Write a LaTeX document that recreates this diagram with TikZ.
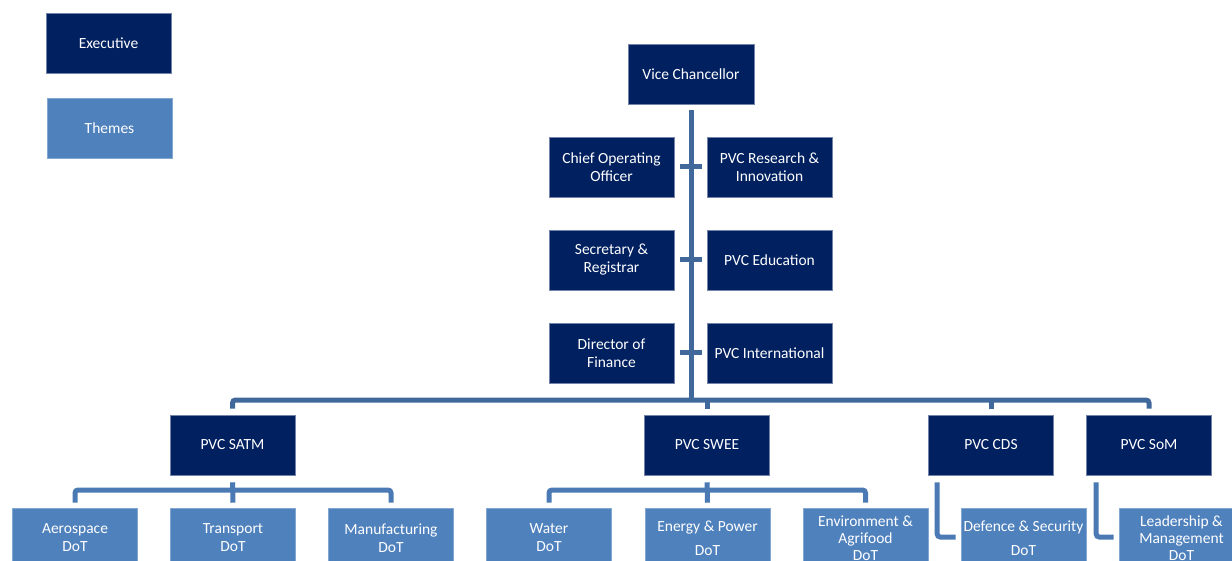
\documentclass[tikz,border=0pt]{standalone}
\usepackage{fontspec}
\setmainfont{Carlito}
\definecolor{execc}{HTML}{002060}
\definecolor{themec}{HTML}{4F81BD}
\definecolor{mainln}{HTML}{41689B}
\definecolor{subln}{HTML}{4A79B3}
\tikzset{
  box/.style={minimum width=125pt, minimum height=60pt, inner sep=0pt, text=white, align=center, font=\fontsize{15.5}{18}\selectfont, line width=0.6pt},
  execbox/.style={box, fill=execc, draw=execc!55!white},
  themebox/.style={box, fill=themec, draw=themec!70!white},
  mainconn/.style={draw=mainln, line width=5pt, rounded corners=3pt},
  subconn/.style={draw=subln, line width=5pt, rounded corners=3pt},
  tight/.style={font=\fontsize{15.5}{17}\selectfont}
}
\begin{document}
\begin{tikzpicture}[x=1pt,y=-1pt]
\useasboundingbox (0,0) rectangle (1232,561);
\clip (0,0) rectangle (1232,561);
% legend
\node[execbox] (legexec) at (108.5,43) {Executive};
\node[themebox] (legtheme) at (109.5,128) {Themes};
% executive
\node[execbox, minimum width=126pt] (vc) at (691,74) {Vice Chancellor};
\node[execbox] (coo) at (611.5,167) {Chief Operating\\Officer};
\node[execbox] (ri) at (769.5,167) {PVC Research \&\\Innovation};
\node[execbox] (sec) at (611.5,260) {Secretary \&\\Registrar};
\node[execbox] (edu) at (769.5,260) {PVC Education};
\node[execbox] (fin) at (611.5,353) {Director of\\Finance};
\node[execbox] (intl) at (769.5,353) {PVC International};
% PVC row
\node[execbox] (satm) at (232.5,445) {PVC SATM};
\node[execbox] (swee) at (707,445) {PVC SWEE};
\node[execbox] (cds) at (991,445) {PVC CDS};
\node[execbox] (som) at (1149,445) {PVC SoM};
% themes
\node[themebox] (aero) at (75,538) {Aerospace\\DoT};
\node[themebox] (trans) at (233,538) {Transport\\DoT};
\node[themebox] (manu) at (391,538) {Manufacturing\\DoT};
\node[themebox] (water) at (549,538) {Water\\DoT};
\node[themebox] (energy) at (707.5,538) {Energy \& Power\\[6pt]DoT};
\node[themebox, tight] (env) at (865.5,538) {Environment \&\\Agrifood\\DoT};
\node[themebox] (def) at (1023.5,538) {Defence \& Security\\[6pt]DoT};
\node[themebox, tight] (lead) at (1181.5,538) {Leadership \&\\Management\\DoT};
% bus levels
\coordinate (busy) at (0,400);
\coordinate (subbusy) at (0,490);
% main trunk
\draw[mainconn] ([yshift=-6pt]vc.south) -- (vc.south |- busy);
\draw[mainconn] ([xshift=6pt]coo.east) -- ([xshift=-5pt]ri.west);
\draw[mainconn] ([xshift=6pt]sec.east) -- ([xshift=-5pt]edu.west);
\draw[mainconn] ([xshift=6pt]fin.east) -- ([xshift=-5pt]intl.west);
\draw[mainconn] ([yshift=6pt]satm.north) -- (satm.north |- busy) -- (som.north |- busy) -- ([yshift=6pt]som.north);
\draw[mainconn] ([yshift=6pt]swee.north) -- (swee.north |- busy);
\draw[mainconn] ([yshift=6pt]cds.north) -- (cds.north |- busy);
% SATM themes
\draw[subconn] ([yshift=-7pt]satm.south) -- ([yshift=5pt]trans.north);
\draw[subconn] ([yshift=5pt]aero.north) -- (aero.north |- subbusy) -- (manu.north |- subbusy) -- ([yshift=5pt]manu.north);
% SWEE themes
\draw[subconn] ([yshift=-7pt]swee.south) -- ([yshift=5pt]energy.north);
\draw[subconn] ([yshift=5pt]water.north) -- (water.north |- subbusy) -- (env.north |- subbusy) -- ([yshift=5pt]env.north);
% CDS and SoM themes
\draw[subconn] ([xshift=9pt,yshift=-7pt]cds.south west) |- ([xshift=-5pt,yshift=1pt]def.west);
\draw[subconn] ([xshift=10pt,yshift=-7pt]som.south west) |- ([xshift=-5pt,yshift=1pt]lead.west);
\end{tikzpicture}
\end{document}
